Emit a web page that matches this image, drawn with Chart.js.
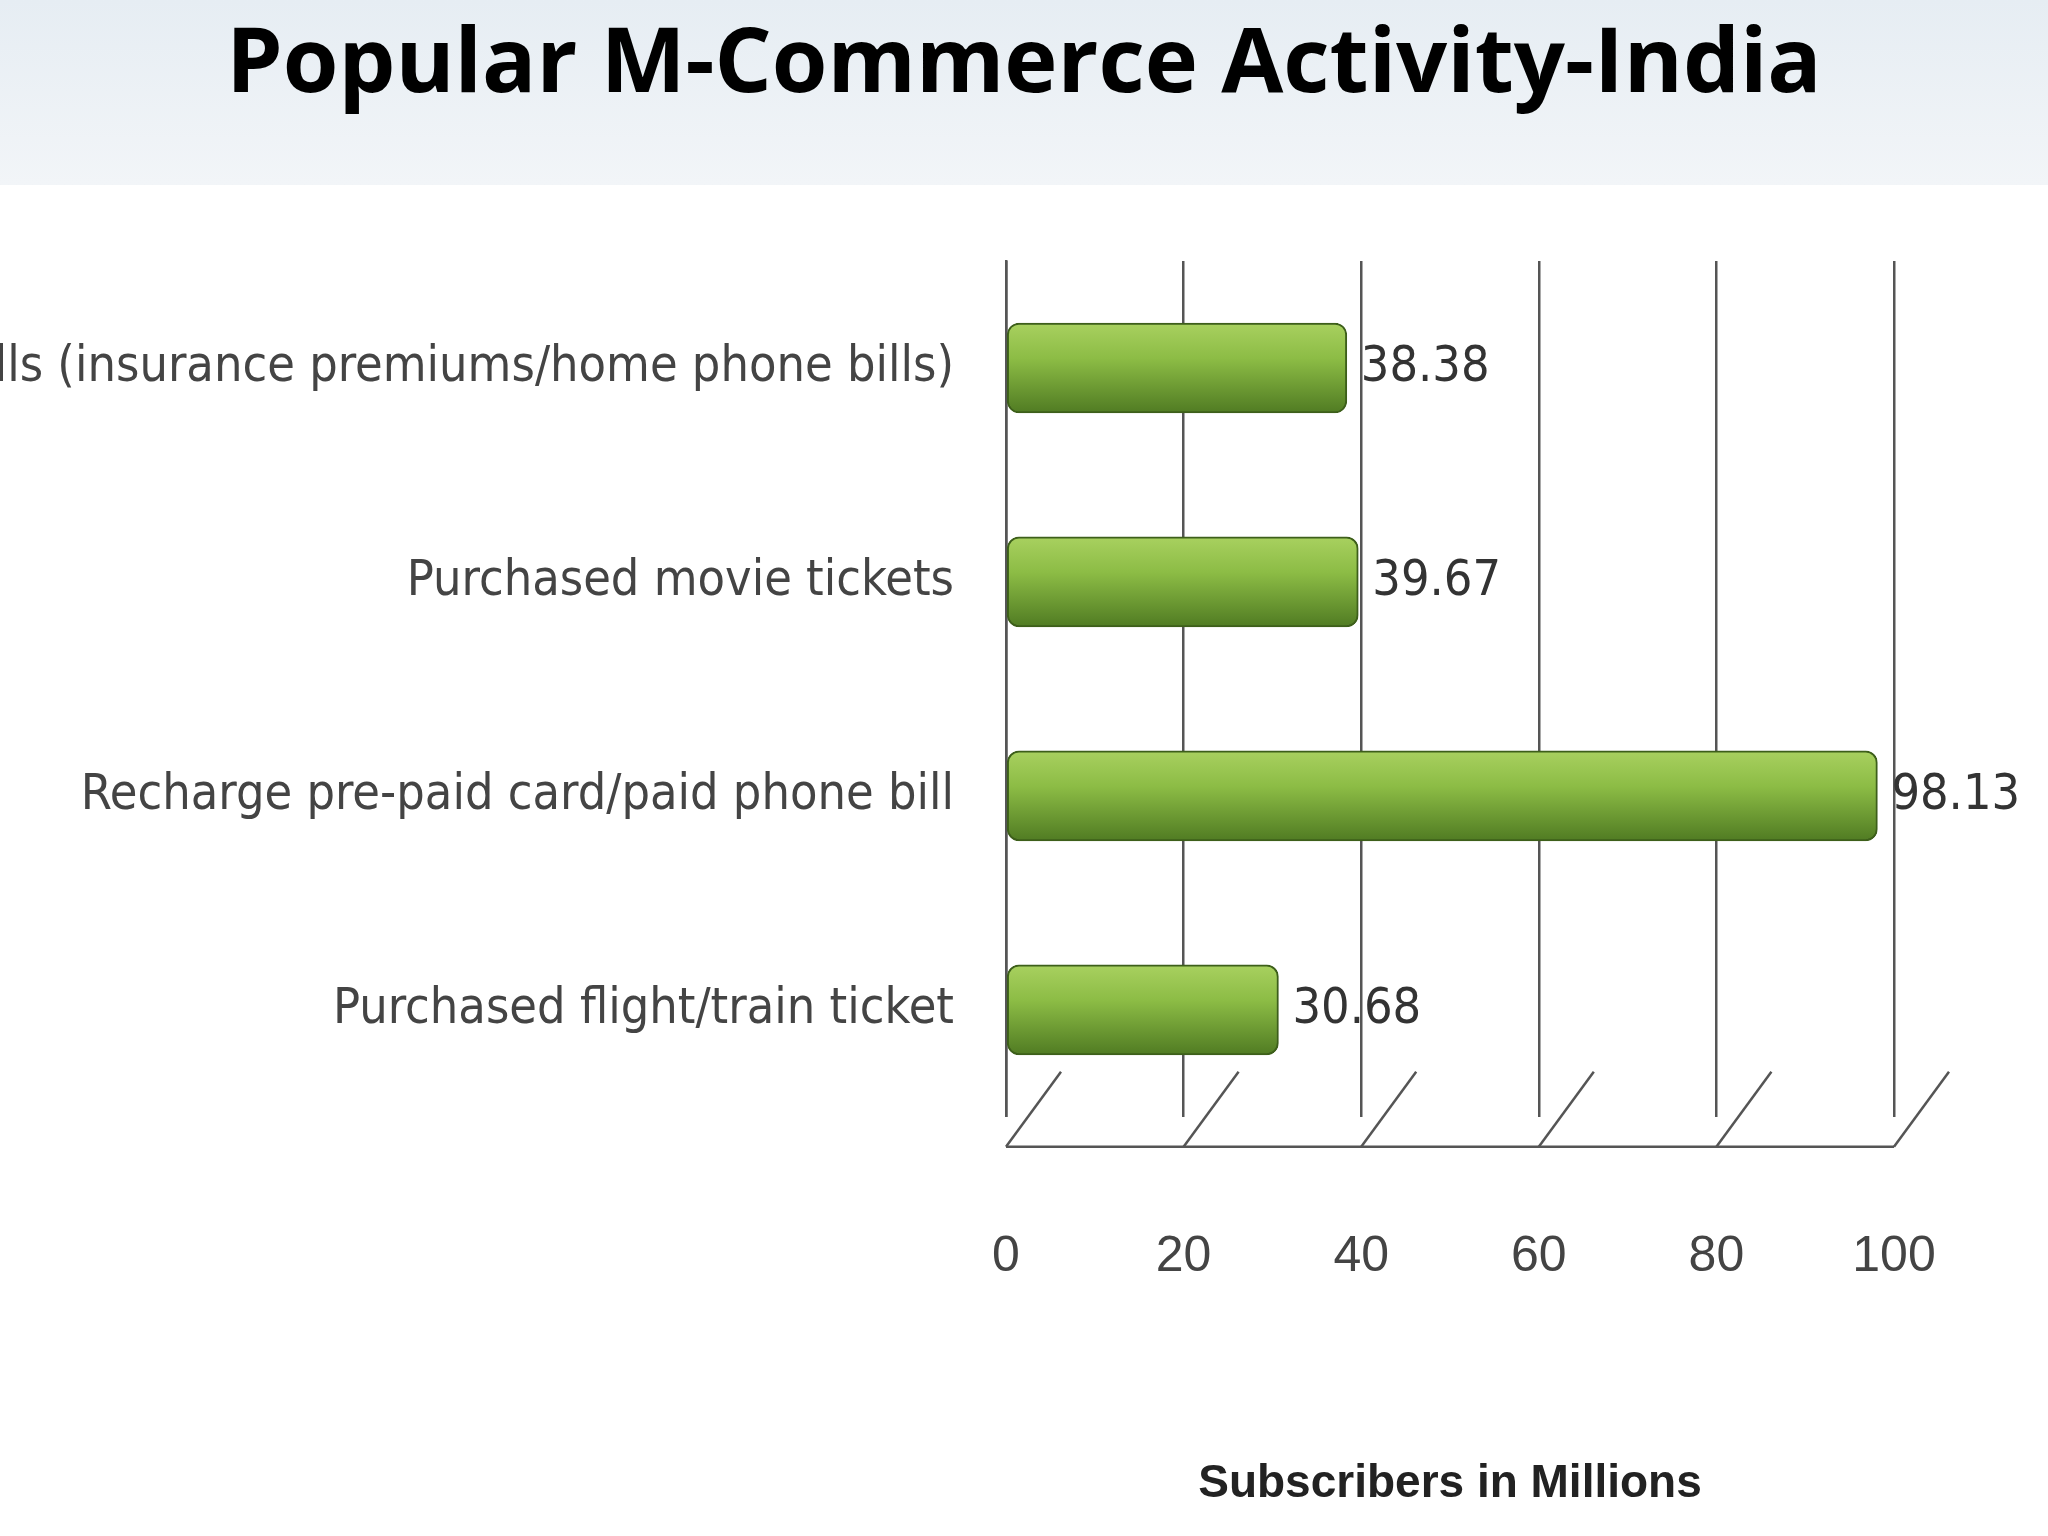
<!DOCTYPE html>
<html><head><meta charset="utf-8">
<script src="https://cdn.jsdelivr.net/npm/chart.js@4/dist/chart.umd.min.js"></script>
<style>body{margin:0;background:#fff}#w{width:2048px;height:1536px}</style></head>
<body><div id="w"><canvas id="c" width="2048" height="1536"></canvas></div>
<script>
const titleText = "Popular M-Commerce Activity-India";
const categories = ["Paid bills (insurance premiums/home phone bills)","Purchased movie tickets","Recharge pre-paid card/paid phone bill","Purchased flight/train ticket"];
const values = [38.38, 39.67, 98.13, 30.68];
const xTicks = [0,20,40,60,80,100];
const axisTitle = "Subscribers in Millions";

const deco = {
  id:'deco',
  beforeDraw(ch){
    const c=ch.ctx;
    const g=c.createLinearGradient(0,0,0,185);
    g.addColorStop(0,'#e6edf3');g.addColorStop(1,'#f2f5f8');
    c.fillStyle=g;c.fillRect(0,0,2048,185);
    c.fillStyle='#000';c.font='bold 90px "Open Sans", "Noto Sans", sans-serif';
    c.textAlign='center';c.textBaseline='middle';
    c.fillText(titleText,1024,66);
    const x=ch.scales.x, a=ch.chartArea;
    c.strokeStyle='#555';c.lineWidth=2.5;
    xTicks.forEach(v=>{const px=x.getPixelForValue(v);
      c.beginPath();c.moveTo(px,a.bottom+30);c.lineTo(px+55,a.bottom-45);c.stroke();});
    c.beginPath();c.moveTo(x.left,a.bottom+30);c.lineTo(x.right,a.bottom+30);c.stroke();
  },
  afterDatasetsDraw(ch){
    const c=ch.ctx;const m=ch.getDatasetMeta(0);
    c.fillStyle='#333';c.font='50px "Liberation Sans Narrow", "DejaVu Sans Condensed", sans-serif';
    c.textAlign='left';c.textBaseline='middle';
    m.data.forEach((b,i)=>c.fillText(values[i].toFixed(2),b.x+14,b.y));
  }
};
const ctx=document.getElementById('c').getContext('2d');
new Chart(ctx,{type:'bar',
 data:{labels:categories,datasets:[{data:values,
   backgroundColor:(cx)=>{const ch=cx.chart;const ys=ch.scales&&ch.scales.y;
     if(!ch.chartArea||!ys)return '#8ab845';
     const y=ys.getPixelForValue(cx.dataIndex);
     if(!isFinite(y))return '#8ab845';
     const g=ch.ctx.createLinearGradient(0,y-46,0,y+46);
     g.addColorStop(0,'#a9d160');g.addColorStop(0.4,'#8cbc45');g.addColorStop(1,'#4f7a22');return g;},
   borderColor:'#3d5f1a',borderWidth:2,borderRadius:12,borderSkipped:false,barThickness:90}]},
 options:{indexAxis:'y',responsive:false,animation:false,
  layout:{padding:{left:0,right:154,top:261,bottom:20}},
  plugins:{legend:{display:false},tooltip:{enabled:false}},
  scales:{
   x:{min:0,max:100,afterBuildTicks:s=>{s.ticks=xTicks.map(v=>({value:v}));},
      grid:{color:'#555',lineWidth:2.5,drawTicks:false},border:{display:false},
      ticks:{padding:110,color:'#444',font:{size:50,family:'"Liberation Sans Narrow", sans-serif'}},
      title:{display:true,text:axisTitle,color:'#222',padding:{top:60},font:{size:46,weight:'bold',family:'"Liberation Sans Narrow", sans-serif'}}},
   y:{afterFit:s=>{s.width=1006;},grid:{display:false},border:{color:'#555',width:2.5},
      ticks:{padding:44,color:'#444',font:{size:50,family:'"Liberation Sans Narrow", "DejaVu Sans Condensed", sans-serif'}}}
  }},plugins:[deco]});
</script></body></html>
